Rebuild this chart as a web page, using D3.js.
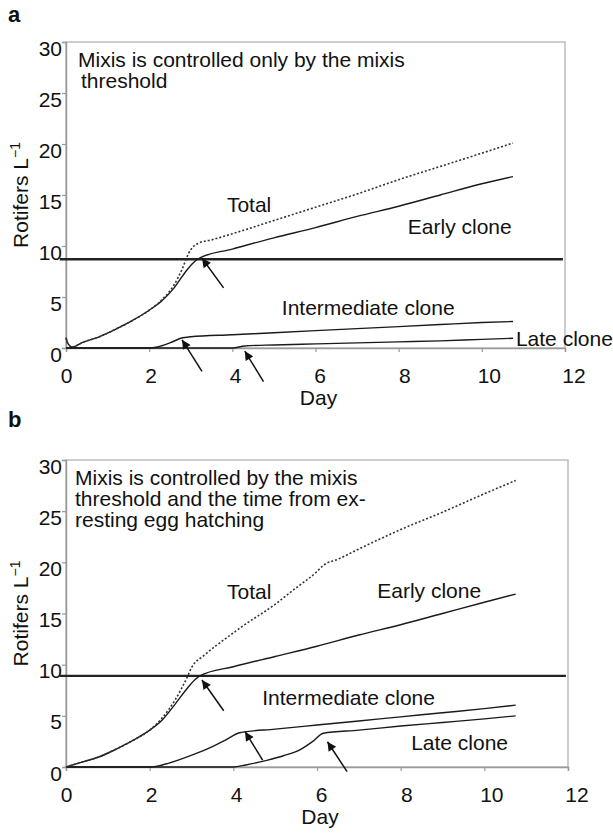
<!DOCTYPE html>
<html>
<head>
<meta charset="utf-8">
<script src="https://cdn.jsdelivr.net/npm/d3@7"></script>
<style>
  html, body { margin: 0; padding: 0; background: #fff; }
  svg { display: block; }
  text { font-family: "Liberation Sans", Arial, sans-serif; fill: #111; }
</style>
</head>
<body>
<svg id="chart" width="613" height="833"></svg>
<script>
// ---------- DATA ----------
const xTicks = [0, 2, 4, 6, 8, 10, 12];
const yTicks = [0, 5, 10, 15, 20, 25, 30];

// Panel a
const daysEarlyA  = [0, 0.05, 0.15, 0.4, 0.8, 1.2, 1.6, 2.0, 2.3, 2.6, 2.9, 3.1, 3.2, 4, 5, 6, 7, 8, 9, 10, 10.75];
const earlyA      = [1.0, 0.4, 0.1, 0.55, 1.1, 1.85, 2.7, 3.7, 4.6, 5.9, 7.6, 8.5, 8.8, 9.7, 10.8, 11.8, 12.9, 13.9, 15.0, 16.1, 16.8];
const daysTotalA  = [0, 0.05, 0.15, 0.4, 0.8, 1.2, 1.6, 2.0, 2.3, 2.6, 2.8, 2.95, 3.05, 3.2, 3.5, 4, 5, 6, 7, 8, 9, 10, 10.75];
const totalA      = [1.0, 0.4, 0.1, 0.55, 1.1, 1.85, 2.7, 3.7, 4.7, 6.2, 7.8, 9.3, 9.9, 10.3, 10.6, 11.2, 12.5, 13.8, 15.1, 16.5, 17.8, 19.1, 20.1];
const daysInterA  = [0, 2.0, 2.2, 2.5, 2.8, 3.0, 4, 5, 6, 7, 8, 9, 10, 10.75];
const interA      = [0, 0, 0.1, 0.5, 1.0, 1.1, 1.3, 1.5, 1.7, 1.9, 2.1, 2.3, 2.5, 2.6];
const daysLateA   = [0, 4.0, 4.3, 5, 6, 7, 8, 9, 10, 10.75];
const lateA       = [0, 0, 0.2, 0.3, 0.4, 0.5, 0.6, 0.7, 0.85, 0.95];
const thresholdA  = 8.7;
const arrowsA = [
  { from: [3.79, 5.9],  to: [3.27, 8.8] },
  { from: [3.27, -2.3], to: [2.79, 0.8] },
  { from: [4.75, -3.3], to: [4.30, -0.3] }
];

// Panel b
const daysEarlyB  = [0, 0.4, 0.8, 1.2, 1.6, 2.0, 2.3, 2.6, 2.9, 3.1, 3.2, 4, 5, 6, 7, 8, 9, 10, 10.75];
const earlyB      = [0, 0.5, 1.0, 1.75, 2.6, 3.6, 4.6, 6.1, 7.7, 8.6, 8.9, 9.8, 10.8, 11.8, 12.9, 13.9, 15.0, 16.1, 16.9];
const daysTotalB  = [0, 0.4, 0.8, 1.2, 1.6, 2.0, 2.3, 2.6, 2.9, 3.0, 3.3, 3.6, 4.0, 4.2, 5.0, 5.5, 6.0, 6.15, 6.5, 7, 8, 9, 10, 10.75];
const totalB      = [0, 0.5, 1.0, 1.75, 2.6, 3.6, 4.8, 6.5, 8.8, 9.7, 10.9, 11.9, 13.1, 13.7, 15.9, 17.5, 19.1, 19.7, 20.3, 21.3, 23.2, 24.9, 26.7, 28.0];
const daysInterB  = [0, 2.0, 2.3, 2.7, 3.1, 3.5, 3.8, 4.15, 5, 6, 7, 8, 9, 10, 10.75];
const interB      = [0, 0, 0.2, 0.7, 1.3, 2.0, 2.6, 3.35, 3.7, 4.1, 4.5, 4.9, 5.3, 5.7, 6.05];
const daysLateB   = [0, 4.0, 4.3, 4.8, 5.2, 5.6, 5.9, 6.15, 7, 8, 9, 10, 10.75];
const lateB       = [0, 0, 0.2, 0.65, 1.1, 1.7, 2.5, 3.3, 3.6, 4.0, 4.35, 4.7, 5.0];
const thresholdB  = 8.9;
const arrowsB = [
  { from: [3.77, 5.5],   to: [3.25, 8.5] },
  { from: [4.70, 0.68],  to: [4.28, 3.45] },
  { from: [6.72, -0.46], to: [6.25, 2.47] }
];

const yLabelText = "Rotifers L";
const xLabelText = "Day";

// ---------- DRAW ----------
const svg = d3.select("#chart");
const defs = svg.append("defs");
defs.append("marker")
  .attr("id", "ah").attr("markerUnits", "userSpaceOnUse")
  .attr("viewBox", "0 0 10 10").attr("refX", 10).attr("refY", 5)
  .attr("markerWidth", 11).attr("markerHeight", 9).attr("orient", "auto")
  .append("path").attr("d", "M0,0 L10,5 L0,10 z").attr("fill", "#111");

const FS = 21;

function zip(xs, ys) { return xs.map((d, i) => [d, ys[i]]); }

function drawPanel(cfg) {
  const x = d3.scaleLinear().domain([0, 12]).range([cfg.left, cfg.right]);
  const y = d3.scaleLinear().domain([0, 30]).range([cfg.bottom, cfg.top]);
  const g = svg.append("g");

  g.append("text").attr("x", 8).attr("y", cfg.letterY)
    .attr("font-size", 22).attr("font-weight", "bold").text(cfg.letter);

  g.append("rect")
    .attr("x", cfg.left).attr("y", cfg.top)
    .attr("width", cfg.right - cfg.left).attr("height", cfg.bottom - cfg.top)
    .attr("fill", "none").attr("stroke", "#bdbdbd").attr("stroke-width", 1.5);

  const ax = g.append("g").attr("transform", `translate(0,${cfg.bottom})`)
    .call(d3.axisBottom(x).tickValues(xTicks).tickSize(4).tickPadding(16));
  ax.selectAll("text").attr("font-size", FS).attr("fill", "#111")
    .attr("font-family", "Liberation Sans, Arial, sans-serif")
    .attr("dx", d => d * 0.7);
  const ay = g.append("g").attr("transform", `translate(${cfg.left},0)`)
    .call(d3.axisLeft(y).tickValues(yTicks).tickSize(4).tickPadding(0));
  ay.selectAll("text").attr("font-size", FS).attr("fill", "#111")
    .attr("font-family", "Liberation Sans, Arial, sans-serif")
    .attr("dy", "0.62em");
  [ax, ay].forEach(a => {
    a.selectAll("path.domain").attr("stroke", "#9a9a9a").attr("stroke-width", 1.5);
    a.selectAll(".tick line").attr("stroke", "#9a9a9a").attr("stroke-width", 1.2);
  });

  g.append("line")
    .attr("x1", x(-0.15)).attr("x2", x(11.95))
    .attr("y1", y(cfg.threshold)).attr("y2", y(cfg.threshold))
    .attr("stroke", "#222").attr("stroke-width", 2.4);

  const line = d3.line().x(d => x(d[0])).y(d => y(d[1])).curve(d3.curveMonotoneX);

  cfg.solid.forEach(s => {
    g.append("path").attr("d", line(zip(s[0], s[1])))
      .attr("fill", "none").attr("stroke", "#1a1a1a").attr("stroke-width", 1.4);
  });
  g.append("path").attr("d", line(zip(cfg.total[0], cfg.total[1])))
    .attr("fill", "none").attr("stroke", "#333").attr("stroke-width", 1.6)
    .attr("stroke-dasharray", "2,2");

  cfg.arrows.forEach(a => {
    g.append("line")
      .attr("x1", x(a.from[0])).attr("y1", y(a.from[1]))
      .attr("x2", x(a.to[0])).attr("y2", y(a.to[1]))
      .attr("stroke", "#111").attr("stroke-width", 1.5)
      .attr("marker-end", "url(#ah)");
  });

  cfg.labels.forEach(l => {
    g.append("text").attr("x", x(l[1])).attr("y", y(l[2]))
      .attr("font-size", FS).text(l[0]);
  });

  cfg.note.forEach((t, i) => {
    g.append("text").attr("x", cfg.noteX[i]).attr("y", cfg.top + 25 + i * 21)
      .attr("font-size", FS).text(t);
  });

  const yt = g.append("text")
    .attr("transform", `translate(28,${(cfg.top + cfg.bottom) / 2}) rotate(-90)`)
    .attr("text-anchor", "middle").attr("font-size", FS);
  yt.append("tspan").text(yLabelText);
  yt.append("tspan").attr("font-size", 14).attr("dy", -8).text("\u22121");

  g.append("text").attr("x", (x(0) + x(12)) / 2 + 3).attr("y", cfg.bottom + 57)
    .attr("text-anchor", "middle").attr("font-size", FS).text(xLabelText);
}

drawPanel({
  letter: "a", letterY: 22,
  left: 66, right: 565, top: 42, bottom: 348,
  threshold: thresholdA,
  solid: [[daysEarlyA, earlyA], [daysInterA, interA], [daysLateA, lateA]],
  total: [daysTotalA, totalA],
  arrows: arrowsA,
  labels: [["Total", 3.87, 13.3], ["Early clone", 8.22, 11.2],
           ["Intermediate clone", 5.19, 3.2], ["Late clone", 10.82, 0.15]],
  note: ["Mixis is controlled only by the mixis", "threshold"],
  noteX: [78, 81]
});

drawPanel({
  letter: "b", letterY: 427,
  left: 66, right: 568, top: 460, bottom: 767,
  threshold: thresholdB,
  solid: [[daysEarlyB, earlyB], [daysInterB, interB], [daysLateB, lateB]],
  total: [daysTotalB, totalB],
  arrows: arrowsB,
  labels: [["Total", 3.85, 16.4], ["Early clone", 7.44, 16.5],
           ["Intermediate clone", 4.69, 6.06], ["Late clone", 8.25, 1.66]],
  note: ["Mixis is controlled by the mixis", "threshold and the time from ex-", "resting egg hatching"],
  noteX: [75, 75, 75]
});
</script>
</body>
</html>
